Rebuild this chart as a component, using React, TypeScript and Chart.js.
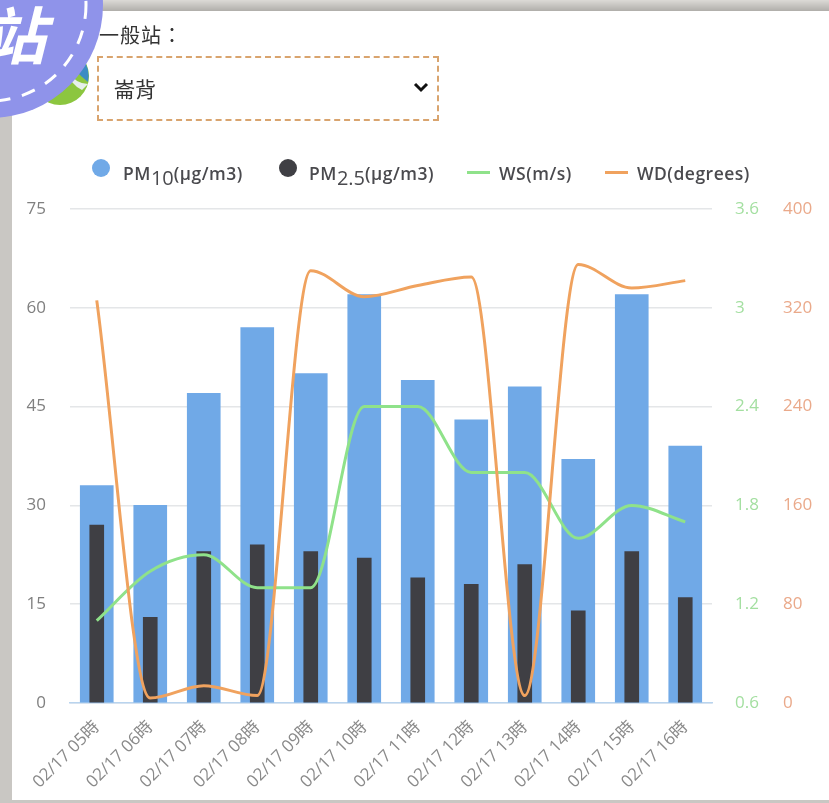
import React, { useEffect, useRef } from "react";
import { Chart, registerables } from "chart.js";

Chart.register(...registerables);

const categories = ["02/17 05時","02/17 06時","02/17 07時","02/17 08時","02/17 09時","02/17 10時","02/17 11時","02/17 12時","02/17 13時","02/17 14時","02/17 15時","02/17 16時"];
const pm10 = [33,30,47,57,50,62,49,43,48,37,62,39];
const pm25 = [27,13,23,24,23,22,19,18,21,14,23,16];
const ws = [1.1,1.4,1.5,1.3,1.3,2.4,2.4,2.0,2.0,1.6,1.8,1.7];
const wd = [326,4,14,6,350,329,338,345,6,355,336,342];

const FONT = '"Open Sans", "Noto Sans CJK TC", sans-serif';
const BLUE = "#70a9e7", DARK = "#3f3f44", GREEN = "#8fe28a", ORANGE = "#f0a25e";

export default function App() {
  const ref = useRef<HTMLCanvasElement>(null);
  useEffect(() => {
    const fitW = (w: number) => (s: any) => { s.width = w; };
    const chart = new Chart(ref.current!, {
      data: {
        labels: categories,
        datasets: [
          { type: "line", label: "WD(degrees)", data: wd, yAxisID: "y3", borderColor: ORANGE, borderWidth: 3, pointRadius: 0, cubicInterpolationMode: "monotone", order: 0 },
          { type: "line", label: "WS(m/s)", data: ws, yAxisID: "y2", borderColor: GREEN, borderWidth: 3, pointRadius: 0, cubicInterpolationMode: "monotone", order: 0 },
          { type: "bar", label: "PM2.5", data: pm25, yAxisID: "y", backgroundColor: DARK, barThickness: 14, grouped: false, order: 1 },
          { type: "bar", label: "PM10", data: pm10, yAxisID: "y", backgroundColor: BLUE, barThickness: 33, grouped: false, order: 2 },
        ],
      } as any,
      options: {
        animation: false,
        responsive: false,
        layout: { padding: { top: 209, left: 0, right: 0, bottom: 0 } },
        plugins: { legend: { display: false }, tooltip: { enabled: false } },
        scales: {
          x: {
            afterFit: (s: any) => { s.height = 100; },
            grid: { display: false, drawTicks: false },
            border: { color: "#b9d4ee", width: 1.5 },
            ticks: { color: "#8a8a8a", font: { family: FONT, size: 17 }, minRotation: 45, maxRotation: 45, padding: 14, autoSkip: false },
          },
          y: {
            position: "left", min: 0, max: 75,
            afterFit: fitW(70),
            grid: { color: "#e4e6e8", lineWidth: 1.5, drawTicks: false },
            border: { display: false },
            ticks: { stepSize: 15, color: "#808080", font: { family: FONT, size: 17 }, padding: 24 },
          },
          y2: {
            position: "right", min: 0.6, max: 3.6,
            afterFit: fitW(48),
            grid: { display: false, drawTicks: false },
            border: { display: false },
            afterBuildTicks: (s: any) => {
              s.ticks = [0.6,1.2,1.8,2.4,3,3.6].map((value) => ({ value }));
            },
            ticks: { color: "#a3dfa0", font: { family: FONT, size: 17 }, padding: 23, callback: (v: any) => String(v) },
          },
          y3: {
            position: "right", min: 0, max: 400,
            afterFit: fitW(69),
            grid: { display: false, drawTicks: false },
            border: { display: false },
            ticks: { stepSize: 80, color: "#eaa98a", font: { family: FONT, size: 17 }, padding: 23 },
          },
        },
      },
    });
    return () => chart.destroy();
  }, []);

  const abs = (l: number, t: number, extra: React.CSSProperties = {}): React.CSSProperties => ({ position: "absolute", left: l, top: t, whiteSpace: "nowrap", ...extra });
  const legendText: React.CSSProperties = { fontFamily: FONT, fontSize: 17.5, fontWeight: 600, letterSpacing: 0.5, color: "#4a4a4e", lineHeight: "22px" };
  const sub: React.CSSProperties = { fontSize: 20, fontWeight: 400, letterSpacing: 0, verticalAlign: -5, lineHeight: 0 };

  return (
    <div style={{ position: "fixed", left: 0, top: 0, width: 829, height: 803, overflow: "hidden", background: "#c9c7c3" }}>
      <div style={abs(0, 0, { width: 829, height: 11, background: "linear-gradient(#dcdad6,#b0aeaa)" })} />
      <div style={abs(12, 11, { width: 817, height: 789, background: "#fff" })} />
      <canvas ref={ref} width={829} height={803} style={{ position: "absolute", left: 0, top: 0, width: 829, height: 803, filter: "blur(0.7px)" }} />

      <div style={{ ...abs(0, 0, { width: 829, height: 200 }), filter: "blur(0.6px)" }}>
        <svg width={140} height={130} style={abs(0, 0)}>
          <circle cx={60} cy={76} r={29} fill="#8cc63f" />
          <path d="M 60 47 A 29 29 0 0 1 88 82 Q 74 72 60 47 Z" fill="#3b8cc4" />
          <path d="M 66 70 Q 76 84 88 84 L 82 90 Q 70 84 66 70 Z" fill="#e6f0ea" />
          <circle cx={-10} cy={5} r={113} fill="#8f93ea" />
          <circle cx={-10} cy={5} r={96} fill="none" stroke="#fff" strokeWidth={3} strokeDasharray="14 12" />
        </svg>
        <div style={abs(-16, -3, { fontFamily: '"Noto Sans CJK TC"', fontSize: 62, fontWeight: 700, fontStyle: "italic", color: "#fff", lineHeight: "70px" })}>站</div>
        <div style={abs(99, 22, { fontFamily: '"Noto Sans CJK TC"', fontSize: 20, color: "#333", lineHeight: "26px", letterSpacing: 1 })}>一般站：</div>
        <div style={abs(97, 56, { width: 342, height: 65, boxSizing: "border-box", border: "2px dashed #d9a46e", background: "#fff" })} />
        <div style={abs(114, 75, { fontFamily: '"Noto Sans CJK TC"', fontSize: 21, color: "#333", lineHeight: "26px" })}>崙背</div>
        <svg width={16} height={12} style={abs(413, 82)}>
          <path d="M 2 2 L 8 8 L 14 2" fill="none" stroke="#111" strokeWidth={3} />
        </svg>

        <div style={abs(92, 159, { width: 18, height: 18, borderRadius: 9, background: BLUE })} />
        <div style={{ ...abs(123, 162), ...legendText }}>PM<span style={sub}>10</span>(µg/m3)</div>
        <div style={abs(279, 159, { width: 18, height: 18, borderRadius: 9, background: DARK })} />
        <div style={{ ...abs(309, 162), ...legendText }}>PM<span style={sub}>2.5</span>(µg/m3)</div>
        <div style={abs(467, 171, { width: 23, height: 3, background: GREEN })} />
        <div style={{ ...abs(499, 162), ...legendText }}>WS(m/s)</div>
        <div style={abs(605, 171, { width: 23, height: 3, background: ORANGE })} />
        <div style={{ ...abs(637, 162), ...legendText }}>WD(degrees)</div>
      </div>
    </div>
  );
}
